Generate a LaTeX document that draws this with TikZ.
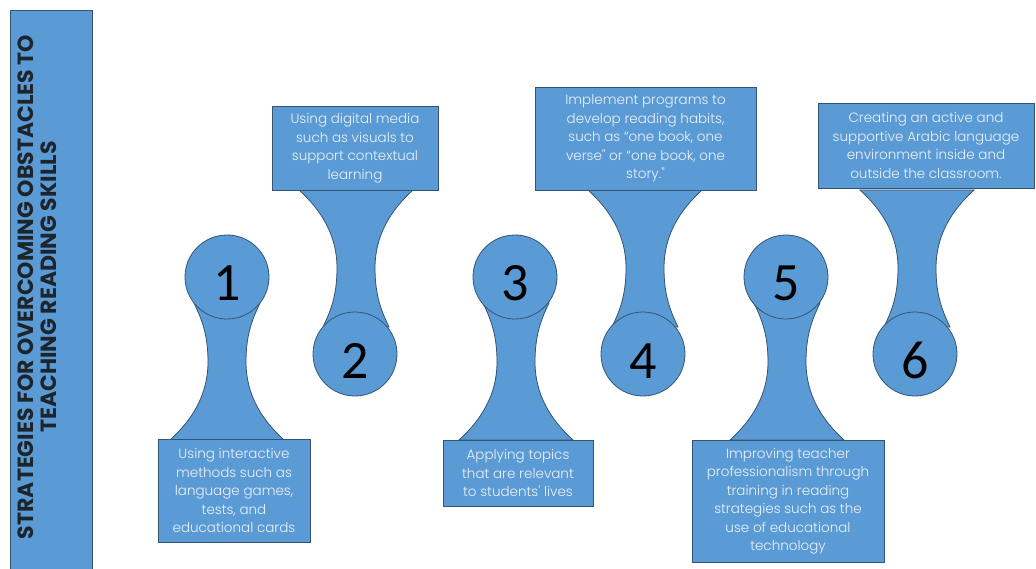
\documentclass[tikz,border=0pt]{standalone}
\usepackage{fontspec}
\setmainfont{Poppins}[UprightFont=* Light, BoldFont=* Bold]
\newfontfamily\numfont{Carlito}
\usepackage{tikz}

\definecolor{boxblue}{RGB}{91,155,213}
\definecolor{edgeblue}{RGB}{52,84,116}
\definecolor{textwhite}{RGB}{236,241,247}
\definecolor{titledark}{RGB}{30,36,44}

\tikzset{
  stepbox/.style={draw=edgeblue, fill=boxblue, text=textwhite, align=center,
    inner sep=0pt, font=\fontsize{13.5}{18.5}\selectfont},
  numcircle/.style={circle, draw=edgeblue, fill=boxblue, minimum size=84pt,
    inner sep=0pt, font=\numfont\fontsize{54}{54}\selectfont,
    text height=48pt, text depth=0pt},
  neck/.style={draw=edgeblue, fill=boxblue},
  titletext/.style={text=titledark, align=center,
    font=\bfseries\fontsize{22}{23}\selectfont}
}

\begin{document}
\begin{tikzpicture}[x=1pt, y=-1pt, line width=0.8pt]
\useasboundingbox (0,0) rectangle (1036,569);
% Title bar
\draw[fill=boxblue, draw=edgeblue] (10,10) rectangle (92,580);
\node[titletext, rotate=90] (title) at (37,287) {STRATEGIES FOR OVERCOMING OBSTACLES TO\\TEACHING READING SKILLS};
% Necks (circle on top)
\draw[neck, xshift=227pt] (-57,440) .. controls (-35,420) and (-19,395) .. (-19,362) .. controls (-19,333) and (-26,318) .. (-33,303) -- (33,303) .. controls (26,318) and (19,333) .. (19,362) .. controls (19,395) and (35,420) .. (57,440) -- cycle;
\draw[neck, xshift=516pt] (-57,440) .. controls (-35,420) and (-19,395) .. (-19,362) .. controls (-19,333) and (-26,318) .. (-33,303) -- (33,303) .. controls (26,318) and (19,333) .. (19,362) .. controls (19,395) and (35,420) .. (57,440) -- cycle;
\draw[neck, xshift=787pt] (-57,440) .. controls (-35,420) and (-19,395) .. (-19,362) .. controls (-19,333) and (-26,318) .. (-33,303) -- (33,303) .. controls (26,318) and (19,333) .. (19,362) .. controls (19,395) and (35,420) .. (57,440) -- cycle;
% Necks (circle below)
\draw[neck, xshift=356pt] (-57,190) .. controls (-35,210) and (-19,235) .. (-19,268) .. controls (-19,297) and (-26,312) .. (-33,327) -- (33,327) .. controls (26,312) and (19,297) .. (19,268) .. controls (19,235) and (35,210) .. (57,190) -- cycle;
\draw[neck, xshift=645pt] (-57,190) .. controls (-35,210) and (-19,235) .. (-19,268) .. controls (-19,297) and (-26,312) .. (-33,327) -- (33,327) .. controls (26,312) and (19,297) .. (19,268) .. controls (19,235) and (35,210) .. (57,190) -- cycle;
\draw[neck, xshift=917pt] (-57,190) .. controls (-35,210) and (-19,235) .. (-19,268) .. controls (-19,297) and (-26,312) .. (-33,327) -- (33,327) .. controls (26,312) and (19,297) .. (19,268) .. controls (19,235) and (35,210) .. (57,190) -- cycle;
% Circles
\node[numcircle] (c1) at (227,277) {1};
\node[numcircle] (c2) at (355,354) {2};
\node[numcircle] (c3) at (515,277) {3};
\node[numcircle] (c4) at (643,354) {4};
\node[numcircle] (c5) at (786,277) {5};
\node[numcircle] (c6) at (915,354) {6};
% Boxes
\node[stepbox, minimum width=152pt, minimum height=103pt] (b1) at (234,490.5) {Using interactive\\methods such as\\language games,\\tests, and\\educational cards};
\node[stepbox, minimum width=166pt, minimum height=84pt] (b2) at (355,148) {Using digital media\\such as visuals to\\support contextual\\learning};
\node[stepbox, minimum width=150pt, minimum height=66pt] (b3) at (518,473) {Applying topics\\that are relevant\\to students\textquotesingle{} lives};
\node[stepbox, minimum width=221pt, minimum height=103pt] (b4) at (645.5,138.5) {Implement programs to\\develop reading habits,\\such as “one book, one\\verse\textquotedbl{} or “one book, one\\story.\textquotedbl{}};
\node[stepbox, minimum width=192pt, minimum height=122pt] (b5) at (788,501) {Improving teacher\\professionalism through\\training in reading\\strategies such as the\\use of educational\\technology};
\node[stepbox, minimum width=216pt, minimum height=85pt] (b6) at (926,145.5) {Creating an active and\\supportive Arabic language\\environment inside and\\outside the classroom.};
\end{tikzpicture}
\end{document}
